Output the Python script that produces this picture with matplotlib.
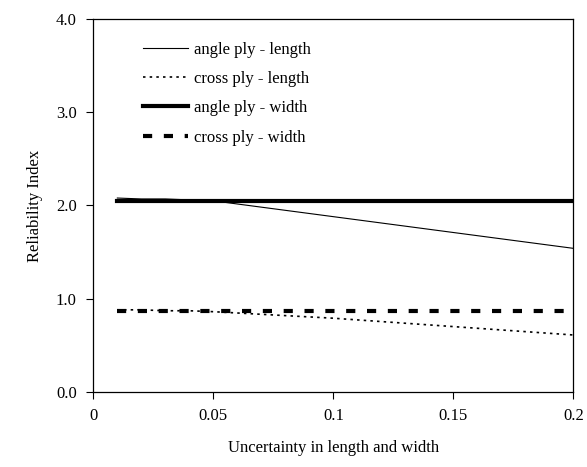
import matplotlib
matplotlib.use("Agg")
import matplotlib.pyplot as plt
from matplotlib.ticker import FormatStrFormatter

plt.rcParams.update({"font.family": "Liberation Serif", "font.size": 12})

# uncertainty values and reliability indices
uncert = [0.01, 0.02, 0.03, 0.04, 0.05, 0.1, 0.15, 0.2]
angle_length = [2.08, 2.07, 2.07, 2.06, 2.05, 1.88, 1.71, 1.54]
cross_length = [0.88, 0.88, 0.87, 0.87, 0.86, 0.79, 0.70, 0.61]
angle_width = [2.05, 2.05, 2.05, 2.05, 2.05, 2.05, 2.05, 2.05]
cross_width = [0.87, 0.87, 0.87, 0.87, 0.87, 0.87, 0.87, 0.87]

xticks = [0, 0.05, 0.1, 0.15, 0.2]
xticklabels = ["0", "0.05", "0.1", "0.15", "0.2"]
yticks = [0.0, 1.0, 2.0, 3.0, 4.0]

fig = plt.figure(figsize=(5.87, 4.67), dpi=100)
ax = fig.add_axes([0.159, 0.161, 0.8177, 0.798])

ax.plot(uncert, angle_length, color="black", lw=0.8, label="angle ply - length")
ax.plot(uncert, cross_length, color="black", lw=1.2, dashes=(1.5, 2.5),
        label="cross ply - length")
ax.plot(uncert, angle_width, color="black", lw=3.0, label="angle ply - width")
ax.plot(uncert, cross_width, color="black", lw=3.0, dashes=(2.2, 2.8),
        label="cross ply - width")

ax.set_xlim(0, 0.2)
ax.set_ylim(0, 4.0)
ax.set_xticks(xticks)
ax.set_xticklabels(xticklabels)
ax.set_yticks(yticks)
ax.yaxis.set_major_formatter(FormatStrFormatter("%.1f"))
ax.tick_params(direction="out", length=5, width=0.8, pad=7)
for s in ax.spines.values():
    s.set_linewidth(0.9)

ax.set_xlabel("Uncertainty in length and width", labelpad=11)
ax.set_ylabel("Reliability Index", labelpad=9)

ax.legend(loc="upper left", bbox_to_anchor=(0.103, 0.94), frameon=False,
          borderpad=0, borderaxespad=0, handlelength=2.7, handletextpad=0.4,
          labelspacing=0.8)

fig.savefig("out.png", dpi=100)
